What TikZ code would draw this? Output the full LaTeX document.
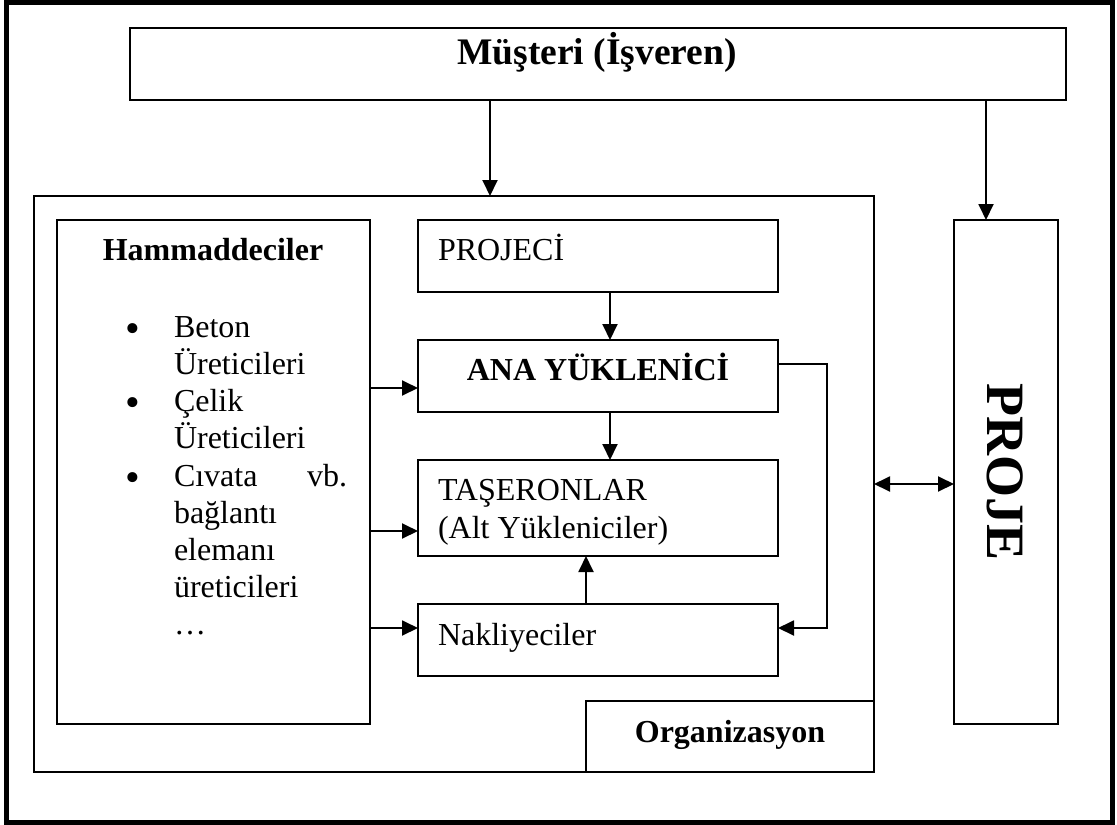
\documentclass[tikz,border=0pt]{standalone}
\usepackage{fontspec}
\setmainfont{Liberation Serif}
\usetikzlibrary{arrows.meta}
\begin{document}
\begin{tikzpicture}[x=1pt,y=-1pt,
  box/.style={draw, line width=1.9pt, inner sep=0pt, outer sep=0pt, anchor=north west},
  txt/.style={inner sep=0pt, outer sep=0pt, font=\fontsize{32}{37}\selectfont},
  btxt/.style={inner sep=0pt, outer sep=0pt, font=\fontsize{32}{37}\selectfont\bfseries},
  bullet/.style={inner sep=0pt, outer sep=0pt, font=\fontsize{42}{42}\selectfont, anchor=base},
  tip/.tip={Triangle[length=16pt,width=15pt]},
  arr/.style={line width=1.9pt, -tip},
  darr/.style={line width=1.9pt, tip-tip}]

\useasboundingbox (0,0) rectangle (1117,825);
% outer frame
\draw[line width=5pt] (6.5,2.5) rectangle (1112,822.5);

% boxes
\node[box, minimum width=936, minimum height=72] (client) at (130,28) {};
\node[box, minimum width=840, minimum height=576] (org) at (34,196) {};
\node[box, minimum width=313, minimum height=504] (raw) at (57,220) {};
\node[box, minimum width=360, minimum height=72] (designer) at (418,220) {};
\node[box, minimum width=360, minimum height=72] (main) at (418,340) {};
\node[box, minimum width=360, minimum height=96] (sub) at (418,460) {};
\node[box, minimum width=360, minimum height=72] (carrier) at (418,604) {};
\node[box, minimum width=288, minimum height=71] (orglbl) at (586,701) {};
\node[box, minimum width=104, minimum height=504] (project) at (954,220) {};

% labels
\node[btxt, font=\fontsize{37.5}{42}\selectfont\bfseries, anchor=base] (clienttxt) at (597,64) {Müşteri (İşveren)};
\node[btxt, anchor=base] (rawtxt) at (213,260) {Hammaddeciler};
\node[txt, anchor=base west] (designertxt) at (438,260) {PROJECİ};
\node[btxt, anchor=base] (maintxt) at (598,380) {ANA YÜKLENİCİ};
\node[txt, anchor=base west] (subtxt1) at (438,500) {TAŞERONLAR};
\node[txt, anchor=base west] (subtxt2) at (438,538) {(Alt Yükleniciler)};
\node[txt, anchor=base west] (carriertxt) at (438,645) {Nakliyeciler};
\node[btxt, anchor=base] (orgtxt) at (730,742) {Organizasyon};
\node[btxt, font=\fontsize{54}{60}\selectfont\bfseries, rotate=-90, anchor=base] (projecttxt) at (987,472) {PROJE};

% list of raw material suppliers
\node[bullet] (b1) at (133,342) {•};
\node[bullet] (b2) at (133,416) {•};
\node[bullet] (b3) at (133,491) {•};
\node[txt, anchor=base west] (l1) at (174,337) {Beton};
\node[txt, anchor=base west] (l2) at (174,374) {Üreticileri};
\node[txt, anchor=base west] (l3) at (174,411) {Çelik};
\node[txt, anchor=base west] (l4) at (174,448) {Üreticileri};
\node[txt, anchor=base west] (l5) at (174,486) {Cıvata};
\node[txt, anchor=base east] (l5b) at (347,486) {vb.};
\node[txt, anchor=base west] (l6) at (174,523) {bağlantı};
\node[txt, anchor=base west] (l7) at (174,560) {elemanı};
\node[txt, anchor=base west] (l8) at (174,597) {üreticileri};
\node[txt, anchor=base west] (l9) at (174,634) {…};

% guide coordinates for connector positions
\coordinate (xa) at (490,0);
\coordinate (xb) at (986,0);
\coordinate (xc) at (610,0);
\coordinate (xd) at (586,0);
\coordinate (xe) at (827,0);
\coordinate (ya) at (0,388);
\coordinate (yb) at (0,531);
\coordinate (yc) at (0,628);
\coordinate (yd) at (0,364);
\coordinate (yf) at (0,484);

% connectors
\draw[arr] (xa |- client.south) -- (xa |- org.north);
\draw[arr] (xb |- client.south) -- (xb |- project.north);
\draw[arr] (xc |- designer.south) -- (xc |- main.north);
\draw[arr] (xc |- main.south) -- (xc |- sub.north);
\draw[arr] (xd |- carrier.north) -- (xd |- sub.south);
\draw[arr] (main.east |- yd) -- (xe |- yd) -- (xe |- yc) -- (carrier.east |- yc);
\draw[arr] (raw.east |- ya) -- (main.west |- ya);
\draw[arr] (raw.east |- yb) -- (sub.west |- yb);
\draw[arr] (raw.east |- yc) -- (carrier.west |- yc);
\draw[darr] (org.east |- yf) -- (project.west |- yf);
\end{tikzpicture}
\end{document}
